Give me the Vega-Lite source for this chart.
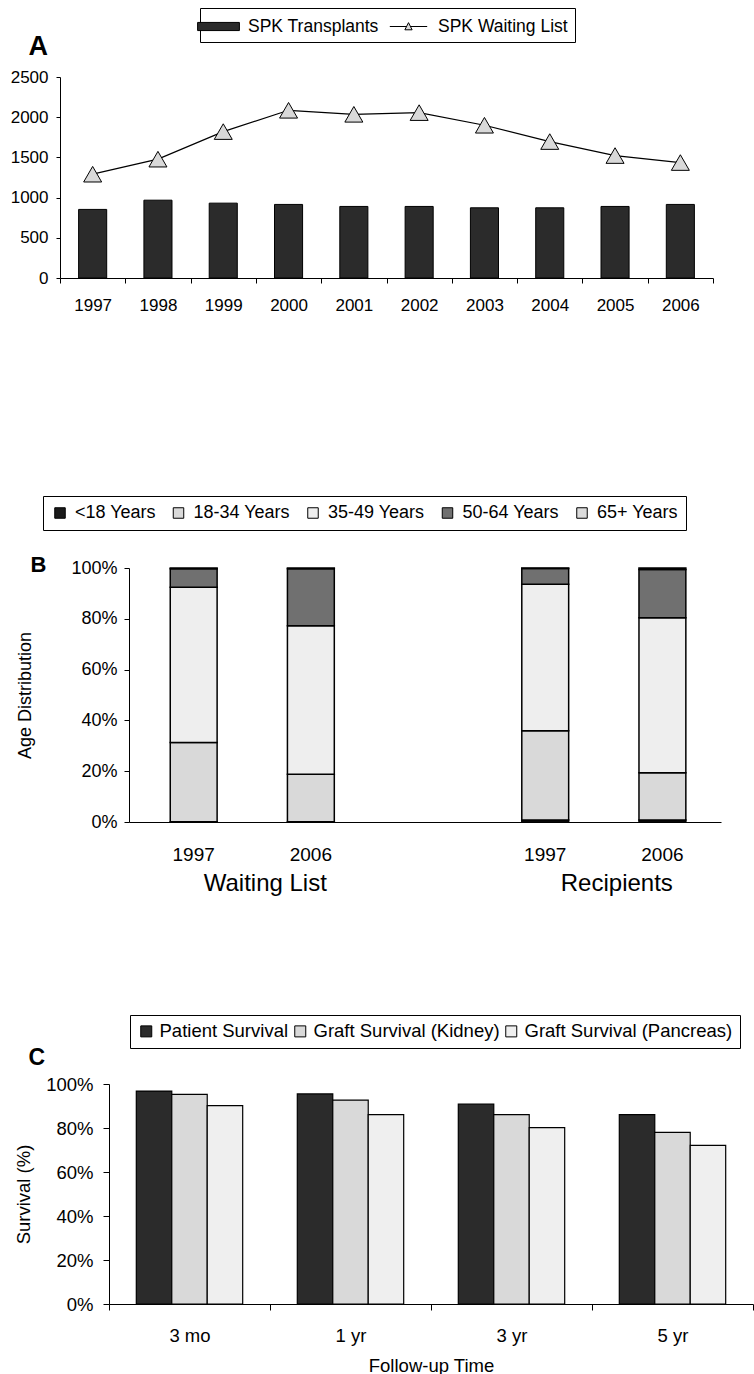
{
  "$schema": "https://vega.github.io/schema/vega-lite/v6.json",
  "padding": {"left": 10, "top": 7, "right": 0, "bottom": 0},
  "autosize": {"type": "pad"},
  "background": "white",
  "config": {
    "font": "Liberation Sans",
    "view": {"stroke": null},
    "axis": {"domainColor": "black", "tickColor": "black", "labelColor": "black", "titleColor": "black", "grid": false, "titleFontWeight": "normal", "labelFont": "Liberation Sans", "titleFont": "Liberation Sans"},
    "legend": {"labelColor": "black", "labelFont": "Liberation Sans", "labelLimit": 400},
    "title": {"color": "black", "font": "Liberation Sans"}
  },
  "datasets": {
    "spk": [
      {"year": "1997", "series": "SPK Transplants", "value": 853},
      {"year": "1998", "series": "SPK Transplants", "value": 968},
      {"year": "1999", "series": "SPK Transplants", "value": 931},
      {"year": "2000", "series": "SPK Transplants", "value": 915},
      {"year": "2001", "series": "SPK Transplants", "value": 890},
      {"year": "2002", "series": "SPK Transplants", "value": 890},
      {"year": "2003", "series": "SPK Transplants", "value": 873},
      {"year": "2004", "series": "SPK Transplants", "value": 873},
      {"year": "2005", "series": "SPK Transplants", "value": 890},
      {"year": "2006", "series": "SPK Transplants", "value": 915},
      {"year": "1997", "series": "SPK Waiting List", "value": 1291},
      {"year": "1998", "series": "SPK Waiting List", "value": 1478},
      {"year": "1999", "series": "SPK Waiting List", "value": 1821},
      {"year": "2000", "series": "SPK Waiting List", "value": 2086},
      {"year": "2001", "series": "SPK Waiting List", "value": 2036},
      {"year": "2002", "series": "SPK Waiting List", "value": 2057},
      {"year": "2003", "series": "SPK Waiting List", "value": 1900},
      {"year": "2004", "series": "SPK Waiting List", "value": 1697},
      {"year": "2005", "series": "SPK Waiting List", "value": 1523},
      {"year": "2006", "series": "SPK Waiting List", "value": 1436}
    ],
    "age": [
      {"slot": "Waiting List 1997", "age": "<18 Years", "pct": 0.1},
      {"slot": "Waiting List 1997", "age": "18-34 Years", "pct": 31.2},
      {"slot": "Waiting List 1997", "age": "35-49 Years", "pct": 61.1},
      {"slot": "Waiting List 1997", "age": "50-64 Years", "pct": 7.3},
      {"slot": "Waiting List 1997", "age": "65+ Years", "pct": 0.3},
      {"slot": "Waiting List 2006", "age": "<18 Years", "pct": 0.1},
      {"slot": "Waiting List 2006", "age": "18-34 Years", "pct": 18.7},
      {"slot": "Waiting List 2006", "age": "35-49 Years", "pct": 58.5},
      {"slot": "Waiting List 2006", "age": "50-64 Years", "pct": 22.4},
      {"slot": "Waiting List 2006", "age": "65+ Years", "pct": 0.3},
      {"slot": "Recipients 1997", "age": "<18 Years", "pct": 0.8},
      {"slot": "Recipients 1997", "age": "18-34 Years", "pct": 35.1},
      {"slot": "Recipients 1997", "age": "35-49 Years", "pct": 57.7},
      {"slot": "Recipients 1997", "age": "50-64 Years", "pct": 6.2},
      {"slot": "Recipients 1997", "age": "65+ Years", "pct": 0.2},
      {"slot": "Recipients 2006", "age": "<18 Years", "pct": 0.8},
      {"slot": "Recipients 2006", "age": "18-34 Years", "pct": 18.6},
      {"slot": "Recipients 2006", "age": "35-49 Years", "pct": 61.0},
      {"slot": "Recipients 2006", "age": "50-64 Years", "pct": 19.0},
      {"slot": "Recipients 2006", "age": "65+ Years", "pct": 0.6}
    ],
    "groups": [
      {"group": "Waiting List", "slot": "Waiting List 2006"},
      {"group": "Recipients", "slot": "Recipients 2006"}
    ],
    "surv": [
      {"time": "3 mo", "measure": "Patient Survival", "value": 96.8},
      {"time": "3 mo", "measure": "Graft Survival (Kidney)", "value": 95.3},
      {"time": "3 mo", "measure": "Graft Survival (Pancreas)", "value": 90.2},
      {"time": "1 yr", "measure": "Patient Survival", "value": 95.5},
      {"time": "1 yr", "measure": "Graft Survival (Kidney)", "value": 92.7},
      {"time": "1 yr", "measure": "Graft Survival (Pancreas)", "value": 86.1},
      {"time": "3 yr", "measure": "Patient Survival", "value": 90.9},
      {"time": "3 yr", "measure": "Graft Survival (Kidney)", "value": 86.1},
      {"time": "3 yr", "measure": "Graft Survival (Pancreas)", "value": 80.2},
      {"time": "5 yr", "measure": "Patient Survival", "value": 86.1},
      {"time": "5 yr", "measure": "Graft Survival (Kidney)", "value": 78.0},
      {"time": "5 yr", "measure": "Graft Survival (Pancreas)", "value": 72.1}
    ]
  },
  "columns": 1,
  "spacing": 182,
  "resolve": {"scale": {"fill": "independent"}, "legend": {"fill": "independent"}},
  "concat": [
    {
      "width": 653,
      "height": 201,
      "data": {"name": "spk"},
      "encoding": {
        "x": {
          "field": "year", "type": "nominal",
          "scale": {"paddingInner": 0, "paddingOuter": 0},
          "axis": {"title": null, "labelAngle": 0, "labelFontSize": 17, "tickBand": "extent", "tickSize": 5, "labelPadding": 14}
        },
        "y": {
          "field": "value", "type": "quantitative",
          "scale": {"domain": [0, 2500], "nice": false},
          "axis": {
            "values": [0, 500, 1000, 1500, 2000, 2500], "format": "d", "labelFontSize": 17, "tickSize": 4, "labelPadding": 8,
            "title": "A", "titleAngle": 0, "titleFontSize": 27, "titleFontWeight": "bold",
            "titleX": -32, "titleY": -23, "titleAlign": "left", "titleBaseline": "alphabetic"
          }
        }
      },
      "layer": [
        {
          "transform": [{"filter": "datum.series === 'SPK Transplants'"}],
          "mark": {"type": "bar", "width": {"band": 0.43}, "fill": "#2b2b2b", "stroke": "black", "strokeWidth": 1}
        },
        {
          "transform": [{"filter": "datum.series === 'SPK Waiting List'"}],
          "mark": {"type": "line", "color": "black", "strokeWidth": 1.2}
        },
        {
          "transform": [{"filter": "datum.series === 'SPK Waiting List'"}],
          "mark": {"type": "point", "filled": true, "shape": "triangle-up", "size": 324, "stroke": "black", "strokeWidth": 1, "opacity": 1},
          "encoding": {
            "fill": {
              "field": "series", "type": "nominal",
              "scale": {"domain": ["SPK Transplants", "SPK Waiting List"], "range": ["#2b2b2b", "#d9d9d9"]},
              "legend": {
                "title": null, "orient": "none", "legendX": 140, "legendY": -69, "direction": "horizontal",
                "labelFontSize": 17.5, "symbolSize": 484, "symbolStrokeColor": "black", "symbolStrokeWidth": 1,
                "labelOffset": 18, "columnPadding": 8, "padding": 7, "strokeColor": "black", "fillColor": "white",
                "encoding": {"symbols": {"shape": {"value": {"expr": "datum.value === 'SPK Transplants' ? 'M-1.9,-0.37H1.9V0.37H-1.9Z' : 'M-1.7,0H-0.2M0.2,0H1.7M0,-0.35L0.33,0.3H-0.33Z'"}}}}
              }
            }
          }
        }
      ]
    },
    {
      "columns": 1,
      "spacing": 118,
      "resolve": {"scale": {"fill": "independent"}, "legend": {"fill": "independent"}},
      "concat": [
        {
          "width": 661,
          "height": 254,
          "layer": [
            {
              "data": {"name": "age"},
              "transform": [{"calculate": "indexof(['<18 Years', '18-34 Years', '35-49 Years', '50-64 Years', '65+ Years'], datum.age)", "as": "ord"}],
              "mark": {"type": "bar", "width": {"band": 0.4}, "stroke": "black", "strokeWidth": 1.5},
              "encoding": {
                "x": {
                  "field": "slot", "type": "nominal",
                  "scale": {"domain": ["Waiting List 1997", "Waiting List 2006", " ", "Recipients 1997", "Recipients 2006"], "paddingInner": 0, "paddingOuter": 0.026, "align": 1, "range": [69, 661]},
                  "axis": {
                    "labelAngle": 0, "labelFontSize": 19, "ticks": false, "labelPadding": 23,
                    "labelExpr": "length(datum.value) > 4 ? slice(datum.value, -4) : ''",
                    "title": "B", "titleAngle": 0, "titleFontSize": 22, "titleFontWeight": "bold",
                    "titleX": -30, "titleY": -251, "titleAlign": "left", "titleBaseline": "alphabetic"
                  }
                },
                "y": {
                  "field": "pct", "type": "quantitative", "stack": "zero",
                  "scale": {"domain": [0, 100], "nice": false},
                  "axis": {
                    "offset": -69,
                    "values": [0, 20, 40, 60, 80, 100], "labelExpr": "datum.value + '%'", "labelFontSize": 18,
                    "tickSize": 5, "labelPadding": 7, "title": "Age Distribution", "titleFontSize": 18, "titlePadding": 36
                  }
                },
                "order": {"field": "ord", "type": "quantitative", "sort": "ascending"},
                "fill": {
                  "field": "age", "type": "nominal",
                  "scale": {"domain": ["<18 Years", "18-34 Years", "35-49 Years", "50-64 Years", "65+ Years"], "range": ["#1a1a1a", "#d9d9d9", "#eeeeee", "#707070", "#dcdcdc"]},
                  "legend": {
                    "title": null, "orient": "none", "legendX": -17, "legendY": -72, "direction": "horizontal",
                    "labelFontSize": 18, "symbolType": "square", "symbolSize": 110, "symbolStrokeColor": "black", "symbolStrokeWidth": 1,
                    "labelOffset": 6, "columnPadding": 13.5, "padding": 8, "strokeColor": "black", "fillColor": "white"
                  }
                }
              }
            },
            {
              "data": {"name": "groups"},
              "mark": {"type": "text", "fontSize": 24, "baseline": "alphabetic", "align": "center", "dy": 69, "dx": 13, "color": "black"},
              "encoding": {
                "x": {"field": "slot", "type": "nominal", "bandPosition": 0},
                "y": {"datum": 0, "type": "quantitative"},
                "text": {"field": "group"}
              }
            }
          ]
        },
        {
          "width": 693,
          "height": 220,
          "data": {"name": "surv"},
          "resolve": {"axis": {"x": "independent"}},
          "layer": [
            {
              "mark": {"type": "bar", "stroke": "black", "strokeWidth": 1.2},
              "encoding": {
                "x": {
                  "field": "time", "type": "nominal", "sort": ["3 mo", "1 yr", "3 yr", "5 yr"],
                  "scale": {"paddingInner": 0, "paddingOuter": 0, "range": [49, 693]},
                  "axis": {"labelAngle": 0, "labelFontSize": 18.5, "tickBand": "extent", "tickSize": 6, "labelPadding": 16, "title": "Follow-up Time", "titleFontSize": 18.5, "titlePadding": 12}
                },
                "xOffset": {
                  "field": "measure", "type": "nominal",
                  "sort": ["Patient Survival", "Graft Survival (Kidney)", "Graft Survival (Pancreas)"],
                  "scale": {"paddingInner": 0, "paddingOuter": 0.77}
                },
                "y": {
                  "field": "value", "type": "quantitative",
                  "scale": {"domain": [0, 100], "nice": false},
                  "axis": {"offset": -49, "values": [0, 20, 40, 60, 80, 100], "labelExpr": "datum.value + '%'", "labelFontSize": 18.5, "tickSize": 6, "labelPadding": 10, "title": "Survival (%)", "titleFontSize": 18.5, "titlePadding": 12}
                },
                "fill": {
                  "field": "measure", "type": "nominal",
                  "sort": ["Patient Survival", "Graft Survival (Kidney)", "Graft Survival (Pancreas)"],
                  "scale": {"domain": ["Patient Survival", "Graft Survival (Kidney)", "Graft Survival (Pancreas)"], "range": ["#2b2b2b", "#d9d9d9", "#efefef"]},
                  "legend": {
                    "title": null, "orient": "none", "legendX": 70, "legendY": -69, "direction": "horizontal",
                    "labelFontSize": 18.5, "symbolType": "square", "symbolSize": 121, "symbolStrokeColor": "black", "symbolStrokeWidth": 1,
                    "labelOffset": 4, "columnPadding": 2, "padding": 7, "strokeColor": "black", "fillColor": "white"
                  }
                }
              }
            },
            {
              "mark": {"type": "bar", "opacity": 0},
              "encoding": {
                "x": {
                  "field": "time", "type": "nominal", "sort": ["3 mo", "1 yr", "3 yr", "5 yr"],
                  "axis": {"orient": "top", "domain": false, "ticks": false, "labels": false, "title": "C", "titleAngle": 0, "titleFontSize": 23, "titleFontWeight": "bold", "titleX": -32, "titleY": -20, "titleAlign": "left", "titleBaseline": "alphabetic"}
                },
                "xOffset": {"field": "measure", "type": "nominal", "sort": ["Patient Survival", "Graft Survival (Kidney)", "Graft Survival (Pancreas)"]},
                "y": {"field": "value", "type": "quantitative"}
              }
            }
          ]
        }
      ]
    }
  ]
}
